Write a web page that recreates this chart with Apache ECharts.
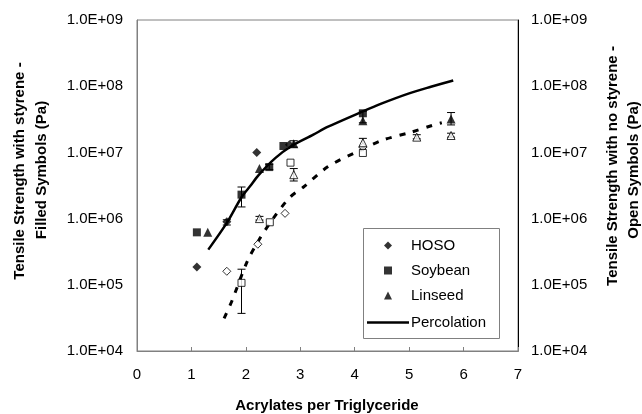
<!DOCTYPE html>
<html>
<head>
<meta charset="utf-8">
<script src="https://cdn.jsdelivr.net/npm/echarts@6/dist/echarts.min.js"></script>
<style>
html,body{margin:0;padding:0;background:#fff;}
#main{width:642px;height:414px;}
</style>
</head>
<body>
<div id="main"></div>
<script type="text/javascript">
	// 有苯乙烯 - 实心符号 [x, Pa]
	var hosoFilled = [[1.1,1.85e5],[1.65,9.0e5],[2.2,1.0e7],[2.8,1.3e7]];
	var soyFilled = [[1.1,6.2e5],[1.92,2.3e6],[2.43,6.0e6],[2.69,1.25e7],[4.15,3.9e7]];
	var linFilled = [[1.3,6.2e5],[2.25,5.7e6],[2.88,1.35e7],[4.15,3.0e7],[5.77,3.2e7]];

	// 无苯乙烯 - 空心符号
	var hosoOpen = [[1.65,1.6e5],[2.22,4.1e5],[2.72,1.2e6],[4.15,1.2e7]];
	var soyOpen = [[1.92,1.07e5],[2.44,8.8e5],[2.82,7.0e6],[4.15,9.8e6]];
	var linOpen = [[2.25,1.0e6],[2.88,4.6e6],[4.15,1.4e7],[5.14,1.7e7],[5.77,1.8e7]];

	// 误差线 [x, low, high]
	var errFilled = [[1.65,8.0e5,9.6e5],[1.92,1.5e6,3.0e6],[2.43,5.5e6,6.6e6],[2.88,1.2e7,1.5e7],[4.15,2.8e7,4.2e7],[5.77,2.6e7,4.0e7]];
	var errOpen = [[1.92,3.7e4,1.72e5],[2.25,0.95e6,1.08e6],[2.88,3.7e6,5.7e6],[4.15,1.2e7,1.63e7],[5.14,1.6e7,1.85e7],[5.77,1.7e7,1.95e7]];

	// 渗流曲线
	var percFilled = [[1.31,3.4e5],[1.65,8.6e5],[1.92,2.1e6],[2.08,3.1e6],[2.23,4.5e6],[2.54,8.2e6],[2.84,1.25e7],[3.24,1.85e7],[3.49,2.4e7],[4.13,4.1e7],[4.5,5.5e7],[5.0,7.8e7],[5.4,9.8e7],[5.81,1.22e8]];
	var percOpen = [[1.6,3.1e4],[1.74,5.6e4],[2.02,2.2e5],[2.23,4.6e5],[2.5,1.0e6],[2.81,2.1e6],[3.06,3.0e6],[3.51,6.1e6],[4.04,1.02e7],[4.52,1.54e7],[5.02,2.0e7],[5.44,2.58e7],[5.6,2.8e7]];

	var xTicks = [0,1,2,3,4,5,6,7];
	var yMin = 1e4, yMax = 1e9;

	var font = 'Arial, "Liberation Sans", sans-serif';

	function fmtE(v){
		var p = Math.round(Math.log(v)/Math.LN10);
		return '1.0E+' + (p<10 ? '0'+p : p);
	}

	function errItem(params, api){
		var p0 = api.coord([api.value(0), api.value(1)]);
		var p1 = api.coord([api.value(0), api.value(2)]);
		var w = 4;
		var st = {stroke:'#000', lineWidth:1};
		return {
			type:'group',
			children:[
				{type:'line', shape:{x1:p0[0],y1:p0[1],x2:p1[0],y2:p1[1]}, style:st},
				{type:'line', shape:{x1:p0[0]-w,y1:p0[1],x2:p0[0]+w,y2:p0[1]}, style:st},
				{type:'line', shape:{x1:p1[0]-w,y1:p1[1],x2:p1[0]+w,y2:p1[1]}, style:st}
			]
		};
	}

	var openStyle = {color:'#fff', borderColor:'#000', borderWidth:1};

	var myChart = echarts.init(document.getElementById('main'));

	var option = {
		backgroundColor:'#fff',
		animation:false,
		textStyle:{fontFamily:font},
		grid:{left:137, right:124, top:20, bottom:63, show:true, borderColor:'#808080', borderWidth:1},
		legend:[
			{
				orient:'vertical',
				left:384, top:238,
				padding:0,
				itemWidth:8, itemHeight:8, itemGap:10,
				textStyle:{fontFamily:font, fontSize:15, color:'#000', padding:[0,0,0,14]},
				data:['HOSO','Soybean','Linseed']
			},
			{
				orient:'vertical',
				left:367, top:315,
				padding:0,
				itemWidth:42, itemHeight:2.5,
				icon:'rect',
				textStyle:{fontFamily:font, fontSize:15, color:'#000', padding:[0,0,0,-3]},
				data:['Percolation']
			}
		],
		xAxis:{
			type:'value',
			min:xTicks[0], max:xTicks[xTicks.length-1], interval:1,
			axisLine:{lineStyle:{color:'#808080'}},
			axisTick:{inside:true, length:4, lineStyle:{color:'#808080'}},
			axisLabel:{fontSize:15, color:'#000', margin:16, fontFamily:font},
			splitLine:{show:false}
		},
		yAxis:[
			{
				type:'log', logBase:10, min:yMin, max:yMax,
				axisLine:{show:true, lineStyle:{color:'#808080'}},
				axisTick:{show:false},
				axisLabel:{fontSize:15, color:'#000', margin:14, fontFamily:font, formatter:fmtE},
				splitLine:{show:false}
			},
			{
				type:'log', logBase:10, min:yMin, max:yMax, position:'right',
				axisLine:{show:true, lineStyle:{color:'#000'}},
				axisTick:{show:false},
				axisLabel:{fontSize:15, color:'#000', margin:13, fontFamily:font, formatter:fmtE},
				splitLine:{show:false}
			}
		],
		graphic:[
			// 图例框
			{type:'rect', shape:{x:363.5, y:228.5, width:136, height:110}, style:{fill:'#fff', stroke:'#808080', lineWidth:1}, z:0},
			{type:'text', x:327, y:406, style:{text:'Acrylates per Triglyceride', font:'bold 15px '+font, fill:'#000', align:'center', verticalAlign:'middle'}},
			{type:'text', x:20, y:171, rotation:Math.PI/2, style:{text:'Tensile Strength with styrene -', font:'bold 15px '+font, fill:'#000', align:'center', verticalAlign:'middle'}},
			{type:'text', x:42, y:170, rotation:Math.PI/2, style:{text:'Filled Symbols (Pa)', font:'bold 15px '+font, fill:'#000', align:'center', verticalAlign:'middle'}},
			{type:'text', x:613, y:166, rotation:Math.PI/2, style:{text:'Tensile Strength with no styrene -', font:'bold 15px '+font, fill:'#000', align:'center', verticalAlign:'middle'}},
			{type:'text', x:634, y:170, rotation:Math.PI/2, style:{text:'Open Symbols (Pa)', font:'bold 15px '+font, fill:'#000', align:'center', verticalAlign:'middle'}}
		],
		series:[
			{name:'err1', type:'custom', renderItem:errItem, data:errFilled, encode:{x:0, y:[1,2]}, z:1, silent:true},
			{name:'err2', type:'custom', renderItem:errItem, data:errOpen, encode:{x:0, y:[1,2]}, z:1, silent:true},
			{
				name:'Percolation', type:'line', data:percFilled, smooth:0.3, symbol:'none',
				lineStyle:{color:'#000', width:2.5}, itemStyle:{color:'#000'}, z:2
			},
			{
				name:'Percolation2', type:'line', data:percOpen, smooth:0.3, symbol:'none',
				lineStyle:{color:'#000', width:3, type:[6,8]}, itemStyle:{color:'#000'}, z:2
			},
			{name:'HOSO', type:'scatter', data:hosoFilled, symbol:'diamond', symbolSize:9, itemStyle:{color:'#000'}, z:3},
			{name:'Soybean', type:'scatter', data:soyFilled, symbol:'rect', symbolSize:8, itemStyle:{color:'#000'}, z:3},
			{name:'Linseed', type:'scatter', data:linFilled, symbol:'triangle', symbolSize:9, itemStyle:{color:'#000'}, z:3},
			{name:'HOSO open', type:'scatter', data:hosoOpen, symbol:'diamond', symbolSize:8, itemStyle:openStyle, z:3},
			{name:'Soybean open', type:'scatter', data:soyOpen, symbol:'rect', symbolSize:7, itemStyle:openStyle, z:3},
			{name:'Linseed open', type:'scatter', data:linOpen, symbol:'triangle', symbolSize:8, itemStyle:openStyle, z:3}
		]
	};

	myChart.setOption(option);
</script>
</body>
</html>
